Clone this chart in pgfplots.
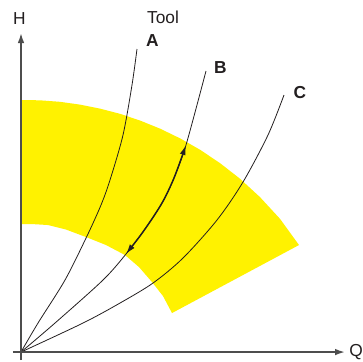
\documentclass[border=0pt]{standalone}
\usepackage{fontspec}
\setmainfont{Liberation Sans}
\usepackage{pgfplots}
\pgfplotsset{compat=1.18}
\usetikzlibrary{arrows.meta}

\definecolor{bandyellow}{RGB}{255,242,0}
\definecolor{axisgray}{RGB}{77,77,77}
\definecolor{curveblack}{RGB}{35,31,32}

\tikzset{lbl/.style={font=\fontsize{13}{15}\selectfont, text=curveblack, inner sep=0pt}}

\begin{document}
\begin{tikzpicture}
\begin{axis}[
    scale only axis,
    width=249pt, height=245.25pt,
    xmin=-8, xmax=324,
    ymin=-8, ymax=319,
    axis lines=middle,
    axis line style={draw=axisgray, line width=1.3pt, -{Latex[length=7.5pt,width=5pt]}},
    ticks=none,
    axis on top,
    clip=false,
  ]

  % operating band: outer arc, then inner arc back
  \addplot[fill=bandyellow, draw=none] coordinates {
    (0,252) (19,251.7) (39,250.2) (59,247.4) (79,243.4) (99,238.2)
    (119,231.5) (139,223.4) (159,213.7) (179,202.3) (199,188.9)
    (219,173.3) (239,154.9) (259,133.2) (278,107)
    (151,39) (142,56) (131,70) (118,85) (104,97) (85,107)
    (65,115) (45,122.5) (27,127) (14,127.8) (0,128)
  } -- cycle;

  % curve A
  \addplot[smooth, curveblack, line width=0.6pt] coordinates {
    (0,0) (17,29) (44,72) (66,116) (80,147) (89,172) (102,217) (111,267) (116,303)
  };
  % curve B
  \addplot[smooth, curveblack, line width=0.6pt] coordinates {
    (0,0) (34,29) (82,72) (105,98) (124,123) (141,149) (153,174) (165,207) (185,281)
  };
  % curve C
  \addplot[smooth, curveblack, line width=0.6pt] coordinates {
    (0,0) (62,29) (99,49) (132,69) (162,94) (196,132) (222,170) (247,217) (263,257)
  };

  % range along B inside the band
  \addplot[smooth, curveblack, line width=1.1pt,
    {Latex[length=7.5pt,width=4.5pt]}-{Latex[length=7.5pt,width=4.5pt]}] coordinates {
    (105,98) (124,123) (141,149) (153,174) (165,207)
  };

  \node[lbl] at (axis cs:-1.5,333) {H};
  \node[lbl] at (axis cs:335,0) {Q};
  \node[lbl] at (axis cs:142,334.5) {Tool};
  \node[lbl] at (axis cs:131.5,311) {\bfseries A};
  \node[lbl] at (axis cs:199.5,284) {\bfseries B};
  \node[lbl] at (axis cs:279,259) {\bfseries C};

  \path (axis cs:-21,-9) rectangle (axis cs:342,352);
\end{axis}
\end{tikzpicture}
\end{document}
